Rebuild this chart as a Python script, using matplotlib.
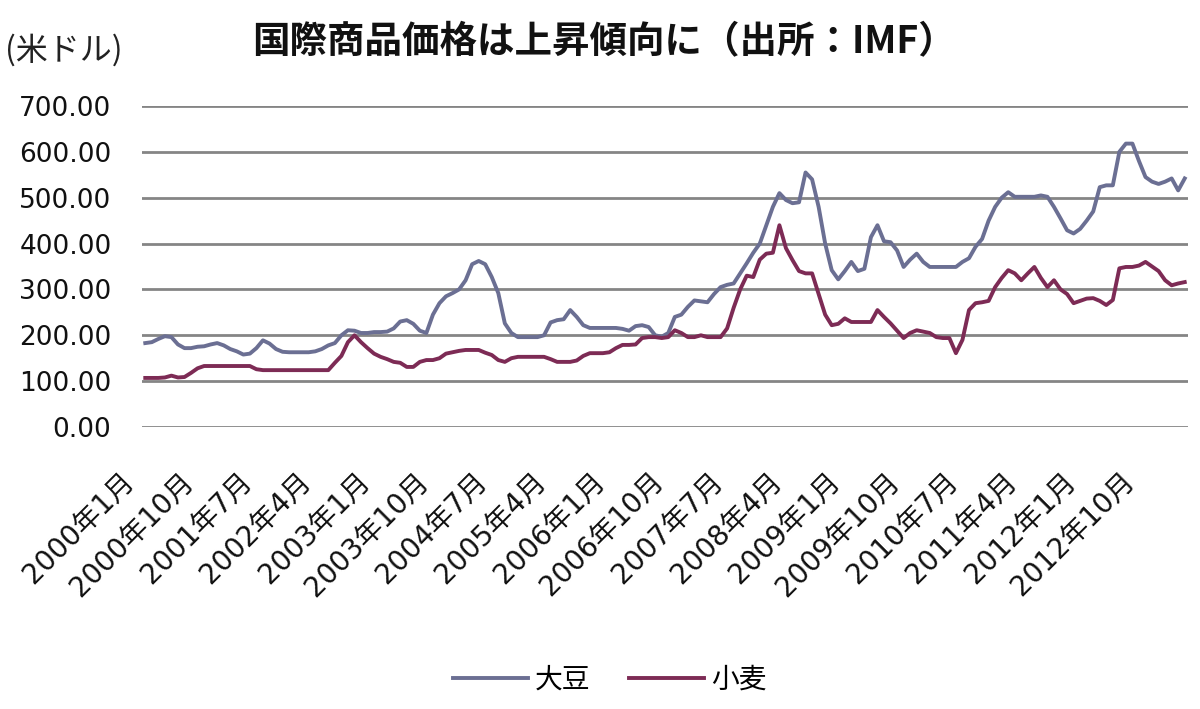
import matplotlib
matplotlib.use("Agg")
import matplotlib.pyplot as plt
import matplotlib.transforms as mtransforms
import numpy as np

plt.rcParams['font.family'] = ['Noto Sans CJK JP', 'DejaVu Sans']

# Monthly data, 2000年1月 .. 2013年4月 (US$ per ton, IMF)
soybean = [
    183, 185, 192, 198, 196, 180, 172, 172, 175, 176, 180, 183,   # 2000
    178, 170, 165, 158, 160, 172, 189, 182, 170, 164, 163, 163,   # 2001
    163, 163, 165, 170, 178, 183, 200, 211, 210, 205, 205, 207,   # 2002
    207, 208, 215, 230, 233, 225, 210, 205, 245, 270, 285, 292,   # 2003
    300, 320, 355, 362, 355, 327, 292, 226, 205, 196, 196, 196,   # 2004
    196, 200, 228, 233, 235, 255, 240, 222, 216, 216, 216, 216,   # 2005
    216, 214, 210, 220, 222, 218, 200, 197, 205, 240, 245, 262,   # 2006
    276, 274, 272, 290, 305, 310, 313, 335, 357, 380, 400, 440,   # 2007
    480, 510, 495, 488, 490, 555, 540, 480, 400, 342, 322, 340,   # 2008
    360, 340, 345, 414, 440, 405, 403, 385, 349, 365, 378, 360,   # 2009
    349, 349, 349, 349, 349, 360, 368, 393, 410, 450, 480, 500,   # 2010
    512, 502, 502, 502, 502, 505, 502, 480, 455, 429, 422, 432,   # 2011
    450, 470, 523, 527, 527, 600, 618, 618, 580, 545, 535, 530,   # 2012
    535, 542, 516, 542,                                           # 2013
]
wheat = [
    107, 107, 107, 108, 112, 108, 109, 118, 128, 133, 133, 133,   # 2000
    133, 133, 133, 133, 133, 126, 124, 124, 124, 124, 124, 124,   # 2001
    124, 124, 124, 124, 124, 140, 155, 185, 200, 185, 172, 160,   # 2002
    153, 148, 142, 140, 131, 131, 142, 146, 146, 150, 160, 163,   # 2003
    166, 168, 168, 168, 162, 157, 146, 142, 150, 153, 153, 153,   # 2004
    153, 153, 148, 142, 142, 142, 145, 155, 161, 161, 161, 163,   # 2005
    172, 179, 179, 180, 194, 196, 196, 194, 196, 211, 205, 196,   # 2006
    196, 200, 196, 196, 196, 215, 260, 300, 330, 327, 365, 378,   # 2007
    380, 440, 390, 364, 340, 335, 335, 290, 245, 222, 225, 237,   # 2008
    229, 229, 229, 229, 255, 240, 226, 210, 194, 205, 211, 208,   # 2009
    205, 196, 194, 194, 161, 190, 255, 270, 272, 275, 305, 325,   # 2010
    342, 335, 320, 335, 349, 325, 305, 320, 300, 290, 270, 275,   # 2011
    280, 281, 275, 266, 277, 346, 349, 349, 352, 360, 350, 340,   # 2012
    320, 309, 313, 316,                                           # 2013
]
series_names = ['大豆', '小麦']
tick_every = 9
y_ticks = [0, 100, 200, 300, 400, 500, 600, 700]

months = []
for i in range(len(soybean)):
    y = 2000 + i // 12
    m = i % 12 + 1
    months.append(f"{y}年{m}月")

x = np.arange(len(soybean))

fig = plt.figure(figsize=(12, 7.09), dpi=100)
ax = fig.add_axes([142/1200, 1-427/709, (1188-142)/1200, (427-106)/709])

ax.plot(x, soybean, color='#6B6F93', lw=2.8, label=series_names[0], zorder=3)
ax.plot(x, wheat, color='#7D2B55', lw=2.8, label=series_names[1], zorder=3)

ax.set_ylim(0, 700)
ax.set_xlim(-0.5, len(soybean) - 0.5)
ax.set_yticks(y_ticks)
ax.set_yticklabels([f"{v:.2f}" for v in y_ticks], fontsize=19, color='#111111',
                   family=['DejaVu Sans'])
for v in y_ticks:
    ax.axhline(v, color='#858585', lw=2, zorder=1)

tick_pos = x[::tick_every]
ax.set_xticks(tick_pos)
ax.tick_params(axis='x', length=0, pad=36)
ax.tick_params(axis='y', length=0, pad=22)
ax.set_xticklabels([months[i] for i in tick_pos], rotation=45, ha='right',
                   va='center', rotation_mode='anchor', fontsize=20, color='#111111',
                   family=['DejaVu Sans', 'Noto Sans CJK JP'])
offset = mtransforms.ScaledTranslation(-11/72, 0, fig.dpi_scale_trans)
for lab in ax.get_xticklabels():
    lab.set_transform(lab.get_transform() + offset)

for s in ax.spines.values():
    s.set_visible(False)

fig.text(0.503, 1-42/709, '国際商品価格は上昇傾向に（出所：IMF）', ha='center', va='center',
         fontsize=27, fontweight='bold', color='#111111')
fig.text(5/1200, 1-50/709, '(米ドル)', ha='left', va='center', fontsize=23, color='#222222')

fig.legend(loc='center', bbox_to_anchor=(610/1200, 1-680/709), ncol=2, frameon=False,
           fontsize=20, handlelength=2.7, handletextpad=0.25, columnspacing=1.4)

fig.savefig('out.png', dpi=100, facecolor='white')
